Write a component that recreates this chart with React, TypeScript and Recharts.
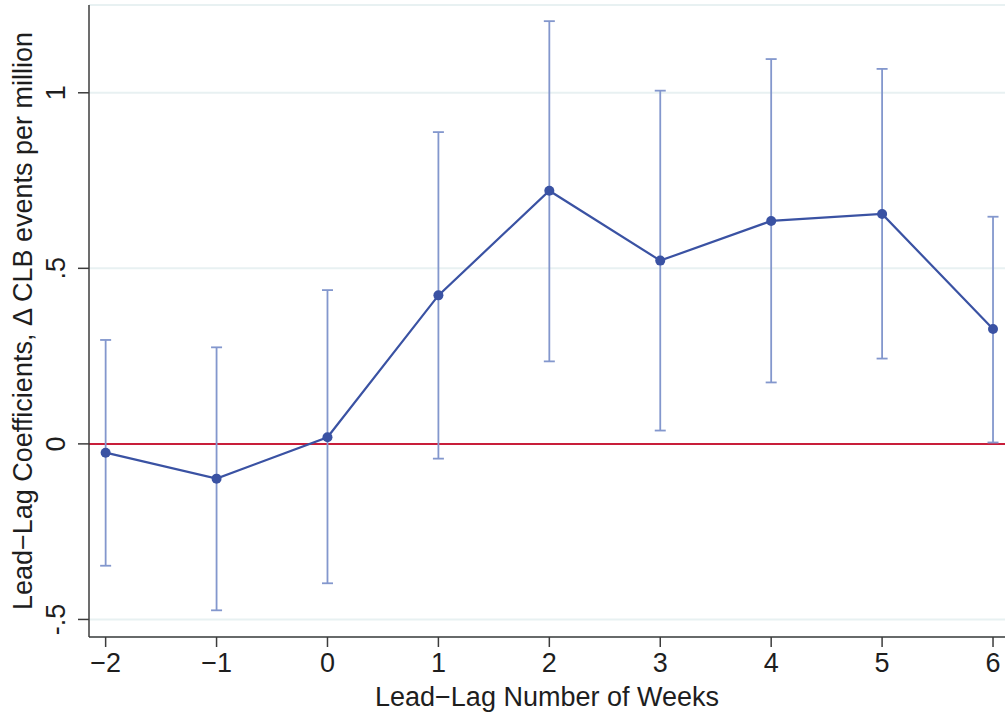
import React from 'react';
import { LineChart, Line, XAxis, YAxis, CartesianGrid, ReferenceLine, ErrorBar, Label } from 'recharts';

const weeks = [-2, -1, 0, 1, 2, 3, 4, 5, 6];
const coefficients = [-0.025, -0.099, 0.019, 0.423, 0.721, 0.522, 0.635, 0.655, 0.327];
const ciLower = [-0.347, -0.474, -0.397, -0.042, 0.235, 0.038, 0.175, 0.243, 0.004];
const ciUpper = [0.296, 0.275, 0.438, 0.888, 1.204, 1.006, 1.096, 1.068, 0.647];
const xTicks = [-2, -1, 0, 1, 2, 3, 4, 5, 6];
const yTicks = [-0.5, 0, 0.5, 1];
const yTickLabels = ['-.5', '0', '.5', '1'];
const xTitle = 'Lead\u2212Lag Number of Weeks';
const yTitle = 'Lead\u2212Lag Coefficients, \u0394 CLB events per million';

const data = weeks.map((w, i) => ({
  week: w,
  coef: coefficients[i],
  err: [coefficients[i] - ciLower[i], ciUpper[i] - coefficients[i]],
}));

const FONT = '"Liberation Sans", Arial, Helvetica, sans-serif';
const FS = 27;
const LINE = '#3a52a3';
const ERR = '#8397cd';
const RED = '#c81e3a';
const AXIS = '#3c3c3c';
const TEXT = '#1e1e1e';

const YTick = (props: any) => {
  const { x, y, payload } = props;
  const idx = yTicks.indexOf(payload.value);
  const label = idx >= 0 ? yTickLabels[idx] : String(payload.value);
  const bx = x - 10.5;
  return (
    <text
      x={bx}
      y={y}
      transform={`rotate(-90, ${bx}, ${y})`}
      textAnchor="middle"
      fontFamily={FONT}
      fontSize={FS}
      fill={TEXT}
    >
      {label}
    </text>
  );
};

const fmtX = (v: number) => (v < 0 ? '\u2212' + Math.abs(v) : String(v));

export default function App() {
  return (
    <div style={{ position: 'absolute', left: 0, top: 0, background: '#fff' }}>
      <LineChart width={1005} height={715} data={data} margin={{ top: 5, right: 0, bottom: 0, left: 0 }}>
        <CartesianGrid vertical={false} stroke="#e8f1f2" strokeWidth={2} />
        <XAxis
          type="number"
          dataKey="week"
          domain={[-2.15, 6.108]}
          ticks={xTicks}
          allowDataOverflow
          height={78}
          tickSize={10}
          tickMargin={6}
          tickFormatter={fmtX}
          tick={{ fontSize: FS, fontFamily: FONT, fill: TEXT }}
          axisLine={{ stroke: AXIS, strokeWidth: 1.5 }}
          tickLine={{ stroke: AXIS, strokeWidth: 1.5 }}
        >
          <Label
            content={(p: any) => {
              const vb = p.viewBox || {};
              return (
                <text
                  x={vb.x + vb.width / 2}
                  y={706}
                  textAnchor="middle"
                  fontFamily={FONT}
                  fontSize={FS}
                  fill={TEXT}
                >
                  {xTitle}
                </text>
              );
            }}
          />
        </XAxis>
        <YAxis
          type="number"
          domain={[-0.55, 1.25]}
          ticks={yTicks}
          allowDataOverflow
          width={89}
          tickSize={11}
          tickMargin={2}
          tick={<YTick />}
          axisLine={{ stroke: AXIS, strokeWidth: 1.5 }}
          tickLine={{ stroke: AXIS, strokeWidth: 1.5 }}
        >
          <Label
            content={(p: any) => {
              const vb = p.viewBox || {};
              const cy = vb.y + vb.height / 2;
              const bx = 32;
              return (
                <text
                  x={bx}
                  y={cy}
                  transform={`rotate(-90, ${bx}, ${cy})`}
                  textAnchor="middle"
                  fontFamily={FONT}
                  fontSize={FS}
                  fill={TEXT}
                >
                  {yTitle}
                </text>
              );
            }}
          />
        </YAxis>
        <ReferenceLine y={0} stroke={RED} strokeWidth={2} />
        <Line
          type="linear"
          dataKey="coef"
          stroke={LINE}
          strokeWidth={2.2}
          dot={{ r: 5, fill: LINE, stroke: LINE, strokeWidth: 0 }}
          isAnimationActive={false}
        >
          <ErrorBar dataKey="err" direction="y" width={5.5} stroke={ERR} strokeWidth={1.8} />
        </Line>
      </LineChart>
    </div>
  );
}
